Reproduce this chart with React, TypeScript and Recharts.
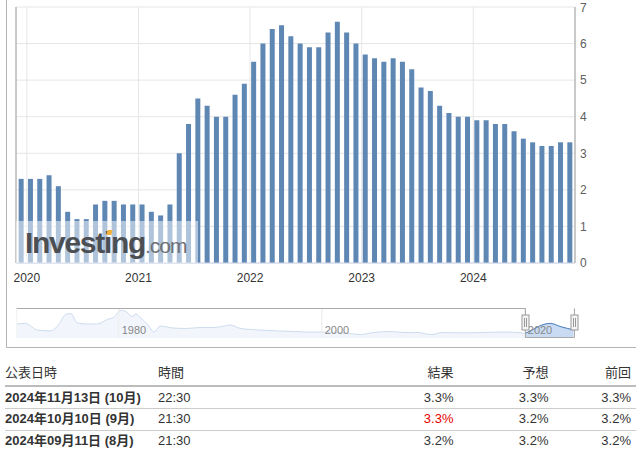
import React from 'react';
import { BarChart, Bar, XAxis, YAxis, CartesianGrid, ReferenceLine, AreaChart, Area } from 'recharts';

// core CPI y/y, one bar per release (Dec 2019 .. Nov 2024)
const coreCpi = [
  2.3, 2.3, 2.3, 2.4, 2.1, 1.4, 1.2, 1.2, 1.6, 1.7,
  1.7, 1.6, 1.6, 1.6, 1.4, 1.3, 1.6, 3.0, 3.8, 4.5,
  4.3, 4.0, 4.0, 4.6, 4.9, 5.5, 6.0, 6.4, 6.5, 6.2,
  6.0, 5.9, 5.9, 6.3, 6.6, 6.3, 6.0, 5.7, 5.6, 5.5,
  5.6, 5.5, 5.3, 4.8, 4.7, 4.3, 4.1, 4.0, 4.0, 3.9,
  3.9, 3.8, 3.8, 3.6, 3.4, 3.3, 3.2, 3.2, 3.3, 3.3,
];
const yearLabels = ['2020', '2021', '2022', '2023', '2024'];
const yAxisTicks = [0, 1, 2, 3, 4, 5, 6, 7];

// navigator overview (rough)
const navYears = [
  1970.0, 1970.8, 1972.0, 1973.3, 1973.9, 1974.9, 1975.3, 1975.9, 1976.9, 1977.9,
  1978.9, 1979.5, 1980.2, 1980.8, 1981.3, 1981.7, 1982.1, 1982.8, 1983.5, 1984.1,
  1985.4, 1986.7, 1988.1, 1989.4, 1990.0, 1991.0, 1992.0, 1994.0, 1995.6, 1997.3,
  1998.9, 2000.2, 2001.5, 2002.8, 2003.8, 2005.1, 2006.8, 2008.1, 2009.4, 2010.8,
  2011.9, 2013.9, 2015.9, 2017.9, 2019.5, 2020.0, 2020.7, 2021.7, 2022.5, 2023.6,
  2024.8,
];
const navValues = [
  6.9, 7.2, 3.9, 3.5, 5.5, 11.9, 12.0, 7.5, 6.9, 6.9,
  9.2, 10.2, 13.6, 12.8, 10.5, 11.8, 10.2, 6.9, 3.0, 5.9,
  4.9, 4.7, 5.2, 5.2, 5.5, 6.4, 4.7, 3.9, 3.5, 3.2,
  2.9, 2.9, 2.7, 2.2, 1.7, 2.7, 3.2, 2.7, 2.7, 1.7,
  2.7, 2.5, 2.7, 2.9, 2.7, 2.2, 3.9, 6.4, 7.2, 5.5,
  4.0,
];
const navTickYears = [1980, 2000, 2020];

const releaseDates = ['2024年11月13日 (10月)', '2024年10月10日 (9月)', '2024年09月11日 (8月)'];
const releaseTimes = ['22:30', '21:30', '21:30'];
const actuals = [3.3, 3.3, 3.2];
const forecasts = [3.3, 3.2, 3.2];
const previous = [3.3, 3.2, 3.2];

const FONT = "'Liberation Sans', Arial, 'Noto Sans CJK JP', sans-serif";
const BAR = '#5f87b4';
const NAV_MIN = 1969.95;
const SEL_START = 2019.95;
const SEL_END = 2024.85;
const NAV_LEFT = 16.7;
const NAV_RIGHT = 574;

const barData = coreCpi.map((v, i) => ({ i, v }));
// bars sit on release dates, january gridline lands ~0.6 bar after the december release
const yearTicks = yearLabels.map((_, k) => 0.6 + 12 * k);
const navData = navYears.map((year, k) => ({
  year,
  v: navValues[k],
  sel: year >= SEL_START ? navValues[k] : null,
}));
const navX = (year: number) => NAV_LEFT + ((year - NAV_MIN) / (SEL_END - NAV_MIN)) * (NAV_RIGHT - NAV_LEFT);

const pct = (v: number) => v.toFixed(1) + '%';

const cell = (top: number, text: string, pos: React.CSSProperties, extra: React.CSSProperties = {}) => (
  <div
    style={{
      position: 'absolute',
      top: top - 8,
      height: 16,
      lineHeight: '16px',
      fontSize: 13,
      color: '#333',
      whiteSpace: 'nowrap',
      ...pos,
      ...extra,
    }}
  >
    {text}
  </div>
);

const App: React.FC = () => {
  const rowCenters = [397.5, 419, 441];
  return (
    <div style={{ position: 'absolute', left: 0, top: 0, width: 636, height: 451, fontFamily: FONT, background: '#fff' }}>
      <div style={{ position: 'absolute', left: 0, top: 0 }}>
        <BarChart width={636} height={290} data={barData} margin={{ top: 7, right: 0, bottom: 0, left: 16 }}>
          <CartesianGrid stroke="#e6e6e6" />
          <XAxis
            type="number"
            dataKey="i"
            domain={[-0.57, 59.54]}
            allowDataOverflow
            ticks={yearTicks}
            interval={0}
            tickFormatter={(t: number) => yearLabels[Math.round((t - 0.6) / 12)]}
            axisLine={{ stroke: '#ccd6eb' }}
            tickLine={false}
            tickSize={0}
            tickMargin={10}
            height={27}
            tick={{ fill: '#333', fontSize: 12, fontFamily: FONT }}
          />
          <YAxis
            orientation="right"
            domain={[0, 7]}
            ticks={yAxisTicks}
            width={61}
            axisLine={{ stroke: '#a0a0a0' }}
            tickLine={false}
            tickSize={0}
            tickMargin={5}
            tick={{ fill: '#606060', fontSize: 12, fontFamily: FONT, textAnchor: 'start' }}
          />
          <ReferenceLine x={-0.57} stroke="#a0a0a0" ifOverflow="visible" />
          <Bar dataKey="v" fill={BAR} barSize={5} isAnimationActive={false} />
        </BarChart>
      </div>

      {/* watermark */}
      <div style={{ position: 'absolute', left: 16, top: 221, width: 182, height: 42, background: 'rgba(255,255,255,0.5)' }} />
      <div
        style={{
          position: 'absolute',
          left: 25,
          top: 226,
          height: 34,
          lineHeight: '34px',
          whiteSpace: 'nowrap',
        }}
      >
        <span style={{ fontSize: 30, fontWeight: 700, color: '#4b4f54', letterSpacing: -1.3 }}>Investing</span>
        <span style={{ fontSize: 21, color: '#6d7176', letterSpacing: -1 }}>.com</span>
      </div>
      <div style={{ position: 'absolute', left: 107, top: 230, width: 5, height: 5, background: '#f2b23c', transform: 'skewX(-12deg)' }} />

      {/* navigator */}
      <div style={{ position: 'absolute', left: 0, top: 300 }}>
        <AreaChart width={636} height={40} data={navData} margin={{ top: 8, right: 636 - NAV_RIGHT, bottom: 2, left: NAV_LEFT }}>
          <CartesianGrid stroke="#f0f0f0" horizontal={false} />
          <XAxis type="number" dataKey="year" domain={[NAV_MIN, SEL_END]} ticks={navTickYears} interval={0} hide />
          <YAxis hide domain={[0, 14.8]} />
          <Area dataKey="v" type="monotone" stroke="#cddcef" strokeWidth={1} fill="#f2f6fc" fillOpacity={1} isAnimationActive={false} />
          <Area dataKey="sel" type="monotone" stroke="#4a7ebb" strokeWidth={1} fill="#c8dbf3" fillOpacity={1} isAnimationActive={false} />
        </AreaChart>
      </div>

      <svg width={636} height={451} style={{ position: 'absolute', left: 0, top: 0, pointerEvents: 'none' }}>
        {navTickYears.map((y) => (
          <line key={'g' + y} x1={navX(y)} x2={navX(y)} y1={308} y2={338} stroke="#eeeeee" />
        ))}
        {navTickYears.map((y) => (
          <text key={y} x={navX(y) + 3} y={333.5} fill="#888" fontSize={11} fontFamily={FONT}>
            {y}
          </text>
        ))}
        <path d="M6.5 0 V347.5 H636" fill="none" stroke="#b4b4b4" />
        <path d="M16.7 308.5 H525.5 V315 M525.5 330 V337.5 H574.5 V330 M574.5 315 V308.5" fill="none" stroke="#aaa" />
        {[525.5, 574.5].map((hx) => (
          <g key={hx}>
            <rect x={hx - 3.5} y={315} width={7} height={15} fill="#f4f4f4" stroke="#999" />
            <path d={`M${hx - 1} 318 V327 M${hx + 1} 318 V327`} stroke="#999" />
          </g>
        ))}
      </svg>

      {/* table */}
      {cell(373, '公表日時', { left: 5 })}
      {cell(373, '時間', { left: 158 })}
      {cell(373, '結果', { right: 636 - 453.5 })}
      {cell(373, '予想', { right: 636 - 548.5 })}
      {cell(373, '前回', { right: 636 - 631 })}
      <div style={{ position: 'absolute', left: 5, top: 385, width: 631, height: 2, background: '#bcbcbc' }} />
      {releaseDates.map((d, r) => (
        <React.Fragment key={d}>
          {cell(rowCenters[r], d, { left: 5 }, { fontWeight: 700 })}
          {cell(rowCenters[r], releaseTimes[r], { left: 158 })}
          {cell(rowCenters[r], pct(actuals[r]), { right: 636 - 453.5 }, actuals[r] > forecasts[r] ? { color: '#e60000' } : {})}
          {cell(rowCenters[r], pct(forecasts[r]), { right: 636 - 548.5 })}
          {cell(rowCenters[r], pct(previous[r]), { right: 636 - 631 })}
          {r < releaseDates.length - 1 && (
            <div style={{ position: 'absolute', left: 5, top: Math.round((rowCenters[r] + rowCenters[r + 1]) / 2), width: 631, height: 1, background: '#cccccc' }} />
          )}
        </React.Fragment>
      ))}
    </div>
  );
};

export default App;
